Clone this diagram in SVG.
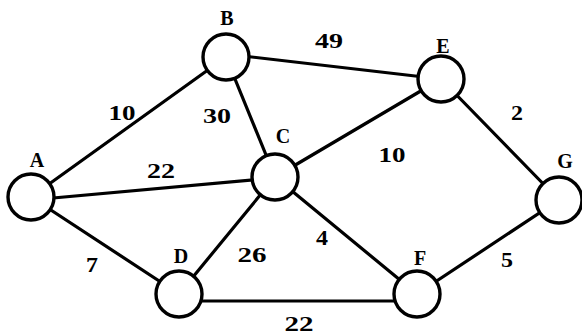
<svg xmlns="http://www.w3.org/2000/svg" width="582" height="335" viewBox="0 0 582 335">
<style>
.e{stroke:#000;stroke-width:3.2;fill:none;stroke-linecap:round}
.n{fill:#fff;stroke:#000;stroke-width:3.4}
text{font-family:"Liberation Serif","Times New Roman",serif;font-weight:bold;font-size:20px;fill:#000;text-anchor:middle}
</style>
<rect width="582" height="335" fill="#fff"/>
<g id="connectors">
<line class="e" x1="31" y1="197" x2="226" y2="57"/>
<line class="e" x1="226" y1="54" x2="441" y2="79"/>
<line class="e" x1="226" y1="57" x2="275" y2="177"/>
<line class="e" x1="31" y1="200" x2="275" y2="178"/>
<line class="e" x1="275" y1="177" x2="441" y2="79"/>
<line class="e" x1="441" y1="79" x2="559" y2="200"/>
<line class="e" x1="31" y1="197" x2="179" y2="294"/>
<line class="e" x1="275" y1="177" x2="179" y2="294"/>
<line class="e" x1="275" y1="177" x2="417" y2="294"/>
<line class="e" x1="179" y1="301" x2="417" y2="301"/>
<line class="e" x1="417" y1="294" x2="559" y2="200"/>
</g>
<g id="edge-labels">
<text x="122" y="120" textLength="27" lengthAdjust="spacingAndGlyphs">10</text>
<text x="217" y="123" textLength="28" lengthAdjust="spacingAndGlyphs">30</text>
<text x="329" y="48" textLength="28" lengthAdjust="spacingAndGlyphs">49</text>
<text x="161" y="178" textLength="28" lengthAdjust="spacingAndGlyphs">22</text>
<text x="392" y="162" textLength="27" lengthAdjust="spacingAndGlyphs">10</text>
<text x="517" y="120" textLength="12" lengthAdjust="spacingAndGlyphs">2</text>
<text x="92" y="272" textLength="12" lengthAdjust="spacingAndGlyphs">7</text>
<text x="252" y="262" textLength="29" lengthAdjust="spacingAndGlyphs">26</text>
<text x="322" y="245" textLength="12" lengthAdjust="spacingAndGlyphs">4</text>
<text x="507" y="267" textLength="12" lengthAdjust="spacingAndGlyphs">5</text>
<text x="299" y="331" textLength="29" lengthAdjust="spacingAndGlyphs">22</text>
</g>
<g id="A"><circle class="n" cx="31" cy="197" r="23"/><text x="37" y="167">A</text></g>
<g id="B"><circle class="n" cx="226" cy="57" r="23"/><text x="227" y="25">B</text></g>
<g id="C"><circle class="n" cx="275" cy="177" r="23"/><text x="283" y="143">C</text></g>
<g id="D"><circle class="n" cx="179" cy="294" r="23"/><text x="181" y="263">D</text></g>
<g id="E"><circle class="n" cx="441" cy="79" r="23"/><text x="443" y="53">E</text></g>
<g id="F"><circle class="n" cx="417" cy="294" r="23"/><text x="420" y="265">F</text></g>
<g id="G"><circle class="n" cx="559" cy="200" r="23"/><text x="565" y="168">G</text></g>
</svg>
